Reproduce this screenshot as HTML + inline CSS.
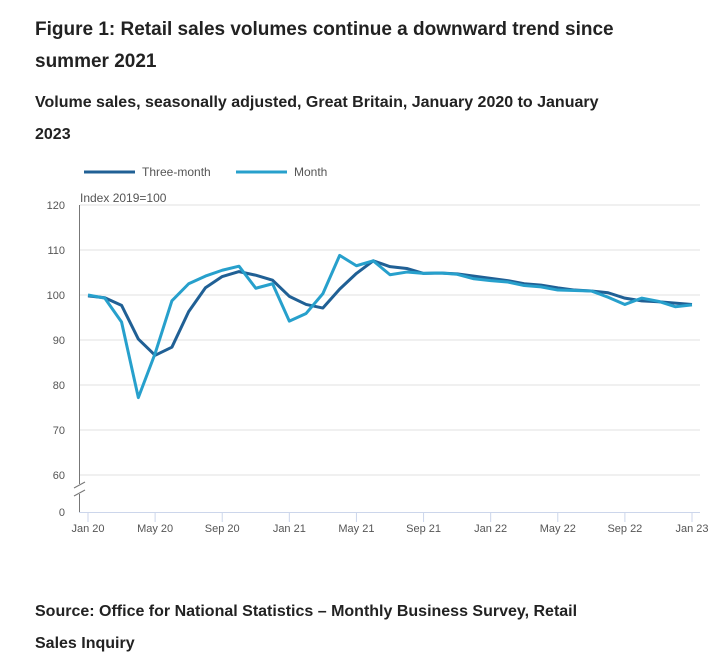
<!DOCTYPE html>
<html><head><meta charset="utf-8"><style>
body{margin:0;width:728px;height:662px;background:#fff;font-family:"Liberation Sans",sans-serif;color:#222;position:relative;overflow:hidden}
.t{position:absolute;left:35px;font-weight:bold;margin:0}
</style></head><body>
<h1 class="t" style="top:14px;font-size:19px;line-height:32px;width:600px">Figure 1: Retail sales volumes continue a downward trend since summer 2021</h1>
<h2 class="t" style="top:87px;font-size:16px;line-height:32px;width:590px">Volume sales, seasonally adjusted, Great Britain, January 2020 to January 2023</h2>
<svg id="c" width="728" height="662" style="position:absolute;left:0;top:0;font-family:'Liberation Sans',sans-serif"></svg>
<p class="t" style="top:596px;font-size:16px;line-height:32px;width:570px">Source: Office for National Statistics – Monthly Business Survey, Retail Sales Inquiry</p>
<script>
const months=["Jan 20","May 20","Sep 20","Jan 21","May 21","Sep 21","Jan 22","May 22","Sep 22","Jan 23"];
const yTicks=[120,110,100,90,80,70,60];
const monthSeries=[100,99.3,94,77.2,87,98.7,102.5,104.2,105.5,106.4,101.5,102.5,94.2,95.9,100.3,108.8,106.5,107.6,104.5,105.1,104.8,104.9,104.6,103.6,103.2,102.9,102.1,101.8,101.1,101.0,100.9,99.5,97.9,99.3,98.6,97.4,97.8];
const threeMonth=[99.8,99.4,97.7,90.2,86.6,88.4,96.3,101.6,104.1,105.2,104.4,103.3,99.7,97.9,97.1,101.3,104.8,107.6,106.3,105.9,104.8,104.9,104.7,104.2,103.7,103.2,102.5,102.2,101.6,101.1,100.9,100.5,99.3,98.7,98.5,98.2,97.9];
const svg=document.getElementById('c');const NS='http://www.w3.org/2000/svg';
function mk(t,a,p){const e=document.createElementNS(NS,t);for(const k in a)e.setAttribute(k,a[k]);(p||svg).appendChild(e);return e;}
const x=i=>88+i*(604/36);
const y=v=>205+(120-v)*4.5;
yTicks.forEach(v=>{
const g=mk('line',{x1:80,x2:700,y1:y(v),y2:y(v),stroke:'#e0e0e0','stroke-width':1});


const t=mk('text',{x:65,y:y(v)+4,'text-anchor':'end','font-size':11,fill:'#555'});t.textContent=v;


});
const z=mk('text',{x:65,y:516,'text-anchor':'end','font-size':11,fill:'#555'});z.textContent='0';


mk('line',{x1:79.5,x2:79.5,y1:205,y2:484,stroke:'#777'});
mk('line',{x1:79.5,x2:79.5,y1:494,y2:512,stroke:'#777'});
mk('line',{x1:74,x2:85,y1:488,y2:482,stroke:'#777'});
mk('line',{x1:74,x2:85,y1:496,y2:490,stroke:'#777'});
mk('line',{x1:79,x2:700,y1:512.5,y2:512.5,stroke:'#ccd6eb'});
const ut=mk('text',{x:80,y:202,'font-size':12,fill:'#555'});ut.textContent='Index 2019=100';


months.forEach((m,k)=>{const xx=x(k*4);
mk('line',{x1:xx,x2:xx,y1:512,y2:522,stroke:'#ccd6eb'});
const t=mk('text',{x:xx,y:532,'text-anchor':'middle','font-size':11,fill:'#555'});t.textContent=m;

});
function line(arr,col,name){const p=mk('polyline',{points:arr.map((v,i)=>x(i)+','+y(v)).join(' '),fill:'none',stroke:col,'stroke-width':3,'stroke-linejoin':'round'});

}
line(threeMonth,'#206095','series-three-month');
line(monthSeries,'#27a0cc','series-month');
[[84,'#206095','Three-month'],[236,'#27a0cc','Month']].forEach(([lx,c,l])=>{
mk('line',{x1:lx,x2:lx+51,y1:172,y2:172,stroke:c,'stroke-width':3});
const t=mk('text',{x:lx+58,y:176,'font-size':12,fill:'#555'});t.textContent=l;

});
</script>
</body></html>
